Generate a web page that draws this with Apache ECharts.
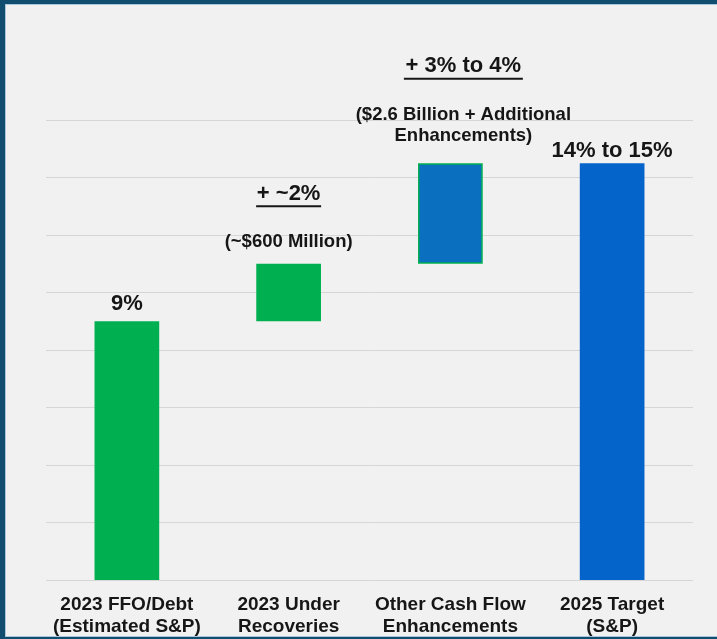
<!DOCTYPE html>
<html>
<head>
<meta charset="utf-8">
<script src="https://cdn.jsdelivr.net/npm/echarts@6/dist/echarts.min.js"></script>
<style>
  html, body { margin: 0; padding: 0; width: 717px; height: 639px; background: #114d6e; overflow: hidden; }
  #frame { position: absolute; left: 5px; top: 4px; width: 712px; height: 633px; background: #a9c8dc; }
  #chart { position: absolute; left: 1px; top: 1px; width: 711px; height: 631px; }
</style>
</head>
<body>
<div id="frame"><div id="chart"></div></div>
<script>
// FFO/Debt bridge: 2023 estimate -> 2025 target (percent)
const categories = [
  '2023 FFO/Debt\n(Estimated S&P)',
  '2023 Under\nRecoveries',
  'Other Cash Flow\nEnhancements',
  '2025 Target\n(S&P)'
];
const barStart = [0, 9, 11, 0];
const barEnd = [9, 11, 14.5, 14.5];
const headlines = ['9%', '+ ~2%', '+ 3% to 4%', '14% to 15%'];
const notes = ['', '(~$600 Million)', '($2.6 Billion + Additional\nEnhancements)', ''];
const barColors = ['#00b050', '#00b050', '#0b6fc0', '#0564c9'];
const yTicks = { min: 0, max: 16, step: 2 };

const FONT = '"Liberation Sans", Arial, sans-serif';
const INK = '#161616';

function labelFor(i) {
  const base = {
    show: true,
    position: 'top',
    fontFamily: FONT,
    fontWeight: 'bold',
    color: INK,
    align: 'center'
  };
  if (!notes[i]) {
    return Object.assign(base, {
      formatter: headlines[i],
      fontSize: 22,
      lineHeight: 22,
      distance: i === 3 ? 1 : 6
    });
  }
  const noteLines = notes[i].split('\n').map(t => '{n|' + t + '}').join('\n');
  const ulWidth = i === 1 ? 65 : 119;
  return Object.assign(base, {
    formatter: '{h|' + headlines[i] + '}\n{u|}\n{g|}\n' + noteLines,
    distance: i === 1 ? 11 : 17,
    offset: i === 2 ? [13, 0] : [0, 0],
    rich: {
      h: { fontFamily: FONT, fontWeight: 'bold', fontSize: 22, lineHeight: 22, color: INK },
      u: { width: ulWidth, height: 2, lineHeight: 3, backgroundColor: INK },
      g: { height: 24, lineHeight: 24 },
      n: { fontFamily: FONT, fontWeight: 'bold', fontSize: 18.5, lineHeight: 21, color: INK }
    }
  });
}

const chart = echarts.init(document.getElementById('chart'));
chart.setOption({
  backgroundColor: '#f1f1f1',
  animation: false,
  grid: { left: 40, right: 24, top: 115, bottom: 56, outerBoundsMode: 'none' },
  xAxis: {
    type: 'category',
    data: categories,
    axisLine: { show: false },
    axisTick: { show: false },
    axisLabel: {
      fontFamily: FONT,
      fontWeight: 'bold',
      fontSize: 19,
      lineHeight: 22,
      color: INK,
      margin: 14,
      interval: 0
    }
  },
  yAxis: {
    type: 'value',
    min: yTicks.min,
    max: yTicks.max,
    interval: yTicks.step,
    axisLabel: { show: false },
    axisLine: { show: false },
    axisTick: { show: false },
    splitLine: { lineStyle: { color: '#d6d6d6', width: 1 } }
  },
  series: [
    {
      name: 'offset',
      type: 'bar',
      stack: 'bridge',
      barWidth: '40%',
      itemStyle: { color: 'transparent' },
      silent: true,
      data: barStart
    },
    {
      name: 'change',
      type: 'bar',
      stack: 'bridge',
      barWidth: '40%',
      data: barEnd.map((v, i) => ({
        value: v - barStart[i],
        itemStyle: {
          color: barColors[i],
          borderColor: i === 2 ? '#00b050' : barColors[i],
          borderWidth: i === 2 ? 1.5 : 0
        },
        label: labelFor(i)
      }))
    }
  ]
});
</script>
</body>
</html>
